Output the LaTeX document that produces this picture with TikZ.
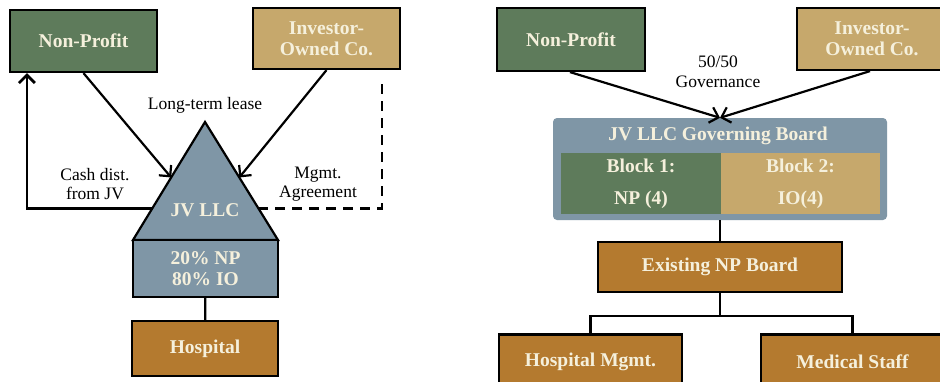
\documentclass[tikz,border=0pt]{standalone}
\usepackage{fontspec}
\setmainfont{Liberation Serif}
\usetikzlibrary{arrows.meta,calc}
\definecolor{npgreen}{HTML}{5E7B5B}
\definecolor{iotan}{HTML}{C6A86C}
\definecolor{jvblue}{HTML}{7F96A6}
\definecolor{hospbrown}{HTML}{B47A2F}
\definecolor{cream}{HTML}{F5F0DC}
\tikzset{
  >={Straight Barb[length=8pt,width=16pt]},
  orgbox/.style={draw=black,line width=2.2pt,text=cream,align=center,inner sep=2pt,
                 font=\bfseries\fontsize{19.5}{21}\selectfont},
  fillbox/.style={text=cream,align=center,inner sep=2pt,
                  font=\bfseries\fontsize{19.5}{32}\selectfont},
  boxtext/.style={text=cream,font=\bfseries\fontsize{19.5}{21}\selectfont},
  shapeline/.style={draw=black,line width=2.2pt,line join=miter},
  flow/.style={->,line width=2.2pt},
  link/.style={line width=2.2pt},
  loopline/.style={line width=2.8pt},
  tag/.style={align=center,text=black,inner sep=1pt,font=\fontsize{17.5}{19.5}\selectfont},
}
\begin{document}
\begin{tikzpicture}[x=1pt,y=-1pt]
  \clip (0,0) rectangle (940,381);
  \fill[white] (0,0) rectangle (940,381);

  % ===== left panel: JV LLC with lease and management agreement =====
  \node[orgbox,fill=npgreen,minimum width=147pt,minimum height=62pt] (np1) at (83.5,41) {Non-Profit};
  \node[orgbox,fill=iotan,minimum width=147pt,minimum height=61pt] (io1) at (326.5,38.5) {Investor-\\Owned Co.};

  % triangle for the JV
  \coordinate (apex) at (205,122);
  \coordinate (tbl) at (133,240);
  \coordinate (tbr) at (278,240);
  \draw[shapeline,fill=jvblue] (apex) -- (tbr) -- (tbl) -- cycle;
  \node[boxtext] (jv) at (205,210) {JV LLC};
  \node[orgbox,fill=jvblue,minimum width=145pt,minimum height=57pt] (pct) at (205.5,268.5) {20\% NP\\80\% IO};
  \node[orgbox,fill=hospbrown,minimum width=146pt,minimum height=55pt] (hosp) at (205,348.5) {Hospital};
  \draw[link] (pct) -- (hosp);

  % lease arrows
  \coordinate (leaseL) at ($(apex)!0.47!(tbl)$);
  \coordinate (leaseR) at ($(apex)!0.47!(tbr)$);
  \draw[flow] (np1.south) -- (leaseL);
  \draw[flow] (io1.south) -- (leaseR);
  \node[tag] (lease) at (205,105) {Long-term lease};

  % cash back to the non-profit, management agreement to the investor
  \coordinate (cashout) at ($(apex)!0.73!(tbl)$);
  \coordinate (mgmtout) at ($(apex)!0.73!(tbr)$);
  \coordinate (mgmtend) at (382,83);
  \draw[loopline,->] (cashout) -| ([xshift=18pt]np1.south west);
  \draw[loopline,dash pattern=on 10pt off 7pt] (mgmtout) -| (mgmtend);
  \node[tag] (cash) at (95,184) {Cash dist.\\from JV};
  \node[tag] (mgmt) at (318,184) {Mgmt.\\Agreement};

  % ===== right panel: 50/50 governing board =====
  \node[orgbox,fill=npgreen,minimum width=148pt,minimum height=63pt] (np2) at (571,39.5) {Non-Profit};
  \node[orgbox,fill=iotan,minimum width=150pt,minimum height=62pt] (io2) at (872,39) {Investor-\\Owned Co.};
  \node[tag] (gov) at (718,72) {50/50\\Governance};

  \node[fill=jvblue,rounded corners=4pt,minimum width=334pt,minimum height=102pt] (board) at (720,169) {};
  \node[boxtext] (boardtitle) at (718,136) {JV LLC Governing Board};
  \node[fillbox,fill=npgreen,minimum width=160pt,minimum height=61pt] (blk1) at (641,183.5) {Block 1:\\NP (4)};
  \node[fillbox,fill=iotan,minimum width=159pt,minimum height=61pt] (blk2) at (800.5,183.5) {Block 2:\\IO(4)};
  \draw[flow] ([xshift=-1pt]np2.south) -- (board.north);
  \draw[flow] ([xshift=-2pt]io2.south) -- (board.north);

  \node[orgbox,fill=hospbrown,minimum width=244pt,minimum height=50pt] (exist) at (720,267) {Existing NP Board};
  \draw[link] (board.south) -- (exist.north);

  \node[orgbox,fill=hospbrown,minimum width=183pt,minimum height=55pt] (hm) at (590.5,362) {Hospital Mgmt.};
  \node[orgbox,fill=hospbrown,minimum width=183pt,minimum height=55pt] (ms) at (852.5,362) {Medical Staff};
  \draw[link] (exist.south) -- ++(0,23) coordinate (split);
  \draw[link] (split) -| (hm.north);
  \draw[link] (split) -| (ms.north);
\end{tikzpicture}
\end{document}
